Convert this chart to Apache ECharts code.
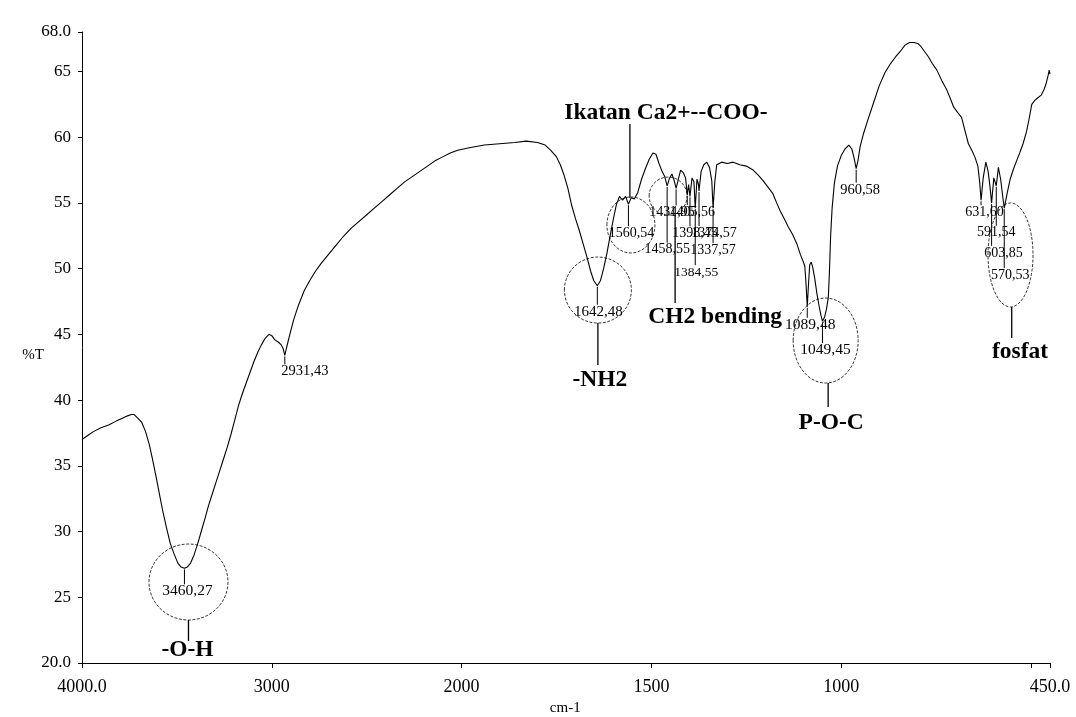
<!DOCTYPE html>
<html>
<head>
<meta charset="utf-8">
<script src="https://cdn.jsdelivr.net/npm/echarts@6/dist/echarts.min.js"></script>
<style>
  html, body { margin: 0; padding: 0; background: #ffffff; }
  #chart { width: 1076px; height: 717px; }
</style>
</head>
<body>
<div id="chart"></div>
<script>
// FTIR transmittance spectrum (%T against wavenumber, cm-1)
const wavenumbers = [
  4000, 3970, 3940, 3900, 3860, 3820, 3790, 3760, 3740, 3725,
  3705, 3685, 3665, 3645, 3630, 3610, 3590, 3575, 3555, 3535,
  3515, 3495, 3478, 3460.27, 3445, 3428, 3410, 3390, 3370, 3350,
  3335, 3315, 3295, 3275, 3255, 3235, 3215, 3195, 3175, 3155,
  3135, 3115, 3095, 3075, 3055, 3035, 3015, 3000, 2985, 2965,
  2950, 2940, 2931.43, 2922, 2905, 2885, 2860, 2830, 2800, 2770,
  2740, 2700, 2660, 2620, 2580, 2540, 2500, 2460, 2420, 2380,
  2340, 2300, 2260, 2220, 2180, 2140, 2100, 2060, 2020, 1980,
  1940, 1900, 1860, 1830, 1800, 1780, 1765, 1750, 1740, 1730,
  1720, 1710, 1700, 1690, 1680, 1670, 1660, 1652, 1642.48, 1634,
  1626, 1617, 1608, 1600, 1592, 1584, 1576, 1568, 1560.54, 1553,
  1545, 1536, 1526, 1516, 1506, 1496, 1488, 1480, 1472, 1465,
  1458.55, 1452, 1446, 1440, 1434.95, 1429, 1423, 1416, 1410, 1405.56,
  1402, 1398.45, 1393, 1388, 1384.55, 1380, 1376, 1374.57, 1369, 1362,
  1354, 1347, 1341, 1337.57, 1333, 1328, 1315, 1300, 1285, 1267,
  1250, 1232, 1218, 1206, 1193, 1180, 1170, 1161, 1150, 1140,
  1128, 1117, 1108, 1101, 1096, 1093, 1089.48, 1086, 1083, 1079,
  1075, 1070, 1064, 1058, 1053, 1049.45, 1044, 1039, 1034, 1031,
  1028, 1024, 1018, 1010, 1000, 990, 980, 972, 966, 960.58,
  956, 950, 942, 930, 915, 900, 885, 870, 857, 845,
  832, 820, 808, 797, 790, 780, 770, 760, 748, 735,
  722, 712, 704, 694, 683, 674, 665, 656, 648, 640,
  635, 631.60, 626, 619, 613, 608, 603.85, 598, 591.54, 586,
  580, 575, 570.53, 563, 555, 546, 538, 530, 521, 512,
  505, 498, 490, 482, 473, 466, 460, 455, 452, 450
];
const transmittance = [
  37.0, 37.3, 37.6, 37.9, 38.1, 38.4, 38.6, 38.8, 38.9, 38.9,
  38.6, 38.3, 37.6, 36.6, 35.6, 34.2, 32.7, 31.6, 30.3, 29.1,
  28.3, 27.6, 27.3, 27.2, 27.3, 27.6, 28.2, 29.1, 30.1, 31.1,
  31.9, 32.8, 33.7, 34.6, 35.5, 36.4, 37.4, 38.5, 39.6, 40.5,
  41.3, 42.1, 42.9, 43.6, 44.2, 44.7, 45.0, 44.9, 44.6, 44.4,
  44.2, 43.9, 43.4, 44.0, 45.0, 46.1, 47.2, 48.3, 49.1, 49.8,
  50.4, 51.1, 51.8, 52.5, 53.1, 53.6, 54.1, 54.6, 55.1, 55.6,
  56.1, 56.6, 57.0, 57.4, 57.8, 58.2, 58.5, 58.8, 59.0, 59.2,
  59.4, 59.5, 59.6, 59.7, 59.6, 59.4, 59.0, 58.5, 57.9, 57.1,
  56.1, 54.8, 53.8, 52.9, 51.9, 50.9, 49.8, 49.1, 48.7, 49.1,
  50.0, 51.2, 52.6, 53.8, 54.9, 55.5, 55.2, 55.5, 54.9, 55.4,
  55.3, 55.8, 56.8, 57.6, 58.3, 58.8, 58.7, 58.0, 57.4, 57.0,
  56.3, 56.9, 57.2, 56.7, 56.1, 56.8, 57.5, 57.3, 56.9, 55.6,
  56.4, 55.5, 56.9, 56.6, 54.6, 56.8, 56.4, 55.9, 57.4, 57.9,
  58.1, 57.7, 56.7, 54.6, 56.6, 57.9, 58.1, 58.0, 58.1, 57.9,
  57.8, 57.5, 57.1, 56.7, 56.2, 55.7, 55.0, 54.4, 53.8, 53.2,
  52.6, 51.9, 51.1, 50.6, 50.2, 49.0, 47.1, 48.9, 50.3, 50.5,
  50.1, 49.3, 48.1, 47.1, 46.4, 46.0, 46.3, 46.9, 47.8, 49.8,
  52.4, 54.6, 56.5, 57.8, 58.6, 59.1, 59.4, 59.1, 58.4, 57.6,
  58.2, 59.3, 60.2, 61.3, 62.6, 63.9, 64.9, 65.6, 66.1, 66.5,
  67.0, 67.2, 67.2, 67.1, 66.9, 66.5, 66.1, 65.6, 65.1, 64.3,
  63.6, 62.9, 62.3, 61.9, 61.5, 60.5, 59.5, 59.0, 58.5, 57.8,
  56.5, 55.2, 56.9, 58.1, 57.4, 56.2, 55.0, 56.9, 56.3, 57.7,
  56.8, 55.6, 54.6, 55.7, 56.8, 57.6, 58.2, 58.8, 59.5, 60.4,
  61.4, 62.5, 62.8, 63.0, 63.2, 63.6, 64.1, 64.7, 65.1, 64.8
];

// Axis ticks and labels
const xTickValues = [4000, 3000, 2000, 1500, 1000, 500, 450];
const xLabelValues = [4000, 3000, 2000, 1500, 1000, 450];
const xLabelText = ['4000.0', '3000', '2000', '1500', '1000', '450.0'];
const yTickValues = [20, 25, 30, 35, 40, 45, 50, 55, 60, 65, 68];
const yLabelText = ['20.0', '25', '30', '35', '40', '45', '50', '55', '60', '65', '68.0'];

// Labelled absorption bands
const peakWavenumbers = [3460.27, 2931.43, 1642.48, 1560.54, 1458.55, 1434.95, 1405.56, 1398.45,
  1384.55, 1374.57, 1337.57, 1089.48, 1049.45, 960.58, 631.60, 591.54, 603.85, 570.53];
const peakLabels = ['3460,27', '2931,43', '1642,48', '1560,54', '1458,55', '1434,95', '1405,56', '1398,45',
  '1384,55', '1374,57', '1337,57', '1089,48', '1049,45', '960,58', '631,60', '591,54', '603,85', '570,53'];

// Band assignments (circled regions)
const groupNames = ['-O-H', '-NH2', 'Ikatan Ca2+--COO-', 'CH2 bending', 'P-O-C', 'fosfat'];
const groupCenterWavenumber = [3439, 1641, 1554, 1456, 1041, 554];
const groupCenterT = [26.16, 48.37, 53.32, 55.52, 44.53, 51.04];

// ---- layout (pixels) ----
const peakLabelLayout = [
  { dx: 3, dy: 23, size: 15.5 }, { dx: 20, dy: 16, size: 14.5 }, { dx: 1, dy: 26, size: 15 },
  { dx: 3, dy: 29, size: 14 }, { dx: 0, dy: 64, size: 14 }, { dx: -4, dy: 24, size: 14 },
  { dx: 5, dy: 17, size: 14 }, { dx: 5, dy: 37, size: 14 }, { dx: 1, dy: 64, size: 13.5 },
  { dx: 15, dy: 42, size: 14 }, { dx: 0, dy: 42, size: 14 }, { dx: 3, dy: 18, size: 15.5 },
  { dx: 3, dy: 29, size: 15.5 }, { dx: 4, dy: 21, size: 14.5 }, { dx: 3.5, dy: 12, size: 14 },
  { dx: 0, dy: 47, size: 14 }, { dx: 12, dy: 50, size: 14 }, { dx: 6, dy: 67, size: 14 }
];
const groupLayout = [
  { rx: 39.5, ry: 38, lineDx: 0, lineFrom: 38, lineTo: 59, textDx: -1, textDy: 68 },
  { rx: 33.5, ry: 33, lineDx: 0, lineFrom: 33, lineTo: 75, textDx: 2, textDy: 90 },
  { rx: 24, ry: 28, lineDx: -1, lineFrom: -27, lineTo: -101, textDx: 35, textDy: -112 },
  { rx: 19, ry: 19, lineDx: 7, lineFrom: 19, lineTo: 107, textDx: 47, textDy: 121 },
  { rx: 32.5, ry: 42.5, lineDx: 2.5, lineFrom: 42.5, lineTo: 66.5, textDx: 5.5, textDy: 82.5 },
  { rx: 22.5, ry: 52, lineDx: 1.2, lineFrom: 52, lineTo: 83, textDx: 9.5, textDy: 97 }
];

const SERIF = '"Liberation Serif", "Times New Roman", serif';

// The spectrometer plots 4000-2000 cm-1 at half the scale of 2000-450 cm-1
const axisPos = w => (w >= 2000 ? w : 2 * w - 2000);
const fromAxis = t => (t >= 2000 ? t : (t + 2000) / 2);

const chart = echarts.init(document.getElementById('chart'), null, { renderer: 'canvas' });

chart.setOption({
  animation: false,
  backgroundColor: '#ffffff',
  grid: { left: 82, right: 26, top: 32, bottom: 54 },
  xAxis: {
    type: 'value',
    inverse: true,
    min: axisPos(450),
    max: axisPos(4000),
    axisLine: { show: true, onZero: false, lineStyle: { color: '#000', width: 1 } },
    axisTick: { show: true, customValues: xTickValues.map(axisPos), length: 5, lineStyle: { color: '#000' } },
    axisLabel: {
      customValues: xLabelValues.map(axisPos),
      formatter: v => xLabelText[xLabelValues.indexOf(Math.round(fromAxis(v)))],
      margin: 15, color: '#000', fontFamily: SERIF, fontSize: 18
    },
    splitLine: { show: false }
  },
  yAxis: {
    type: 'value',
    min: 20,
    max: 68,
    axisLine: { show: true, onZero: false, lineStyle: { color: '#000', width: 1 } },
    axisTick: { show: true, customValues: yTickValues, length: 4, lineStyle: { color: '#000' } },
    axisLabel: {
      customValues: yTickValues,
      formatter: v => yLabelText[yTickValues.indexOf(v)],
      margin: 11, color: '#000', fontFamily: SERIF, fontSize: 17
    },
    splitLine: { show: false }
  },
  series: [{
    type: 'line',
    data: wavenumbers.map((w, i) => [axisPos(w), transmittance[i]]),
    symbol: 'none',
    silent: true,
    lineStyle: { color: '#000', width: 1.1 }
  }]
});

// Annotations placed through the chart's own coordinate conversion
const toPx = (w, t) => chart.convertToPixel({ gridIndex: 0 }, [axisPos(w), t]);
const graphics = [];
const thinLine = { stroke: '#000', lineWidth: 1 };

peakWavenumbers.forEach((w, i) => {
  const t = transmittance[wavenumbers.indexOf(w)];
  const p = toPx(w, t);
  const lay = peakLabelLayout[i];
  const labelY = p[1] + lay.dy;
  if (labelY - 8 > p[1] + 1) {
    graphics.push({ type: 'line', silent: true, shape: { x1: p[0], y1: p[1] + 1, x2: p[0], y2: labelY - 7 }, style: thinLine });
  }
  graphics.push({
    type: 'text', silent: true, x: p[0] + lay.dx, y: labelY,
    style: { text: peakLabels[i], fill: '#000', font: lay.size + 'px ' + SERIF, align: 'center', verticalAlign: 'middle' }
  });
});

groupNames.forEach((name, i) => {
  const c = toPx(groupCenterWavenumber[i], groupCenterT[i]);
  const lay = groupLayout[i];
  graphics.push({
    type: 'ellipse', silent: true,
    shape: { cx: c[0], cy: c[1], rx: lay.rx, ry: lay.ry },
    style: { fill: 'none', stroke: '#222', lineWidth: 0.9, lineDash: [3, 1.5] }
  });
  graphics.push({
    type: 'line', silent: true,
    shape: { x1: c[0] + lay.lineDx, y1: c[1] + lay.lineFrom, x2: c[0] + lay.lineDx, y2: c[1] + lay.lineTo },
    style: { stroke: '#000', lineWidth: 1.3 }
  });
  graphics.push({
    type: 'text', silent: true, x: c[0] + lay.textDx, y: c[1] + lay.textDy,
    style: { text: name, fill: '#000', font: 'bold 23.5px ' + SERIF, align: 'center', verticalAlign: 'middle' }
  });
});

// Axis titles
const yTitleAt = toPx(4000, 43.4);
graphics.push({ type: 'text', silent: true, x: yTitleAt[0] - 49, y: yTitleAt[1],
  style: { text: '%T', fill: '#000', font: '15px ' + SERIF, align: 'center', verticalAlign: 'middle' } });
const xTitleAt = toPx(1727, 20);
graphics.push({ type: 'text', silent: true, x: xTitleAt[0], y: xTitleAt[1] + 45,
  style: { text: 'cm-1', fill: '#000', font: '15px ' + SERIF, align: 'center', verticalAlign: 'middle' } });

chart.setOption({ graphic: graphics });
</script>
</body>
</html>
